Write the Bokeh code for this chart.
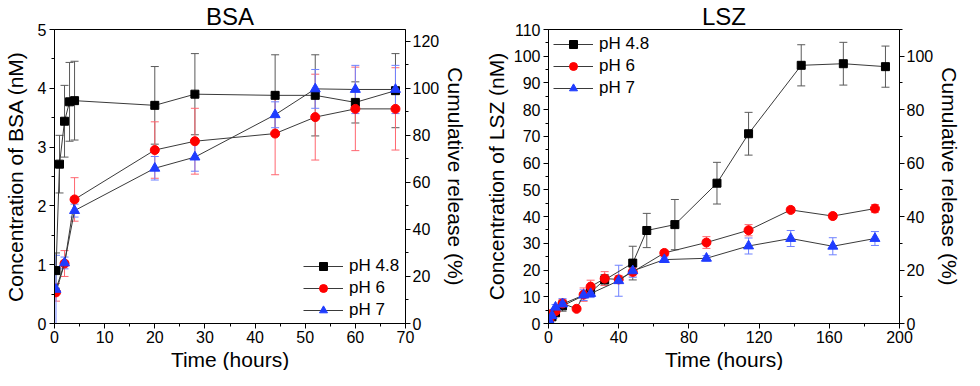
import numpy as np
from bokeh.plotting import figure
from bokeh.models import (Range1d, LinearAxis, SingleIntervalTicker, Whisker, TeeHead,
                          ColumnDataSource, Legend, LegendItem, Title)
from bokeh.layouts import row
from bokeh.embed import file_html
from bokeh.resources import INLINE

# ---------------- data: BSA ----------------
bsa_t48 = [0.3, 1, 2, 3, 4, 20, 28, 44, 52, 60, 68]
bsa_c48 = [0.90, 2.71, 3.44, 3.77, 3.79, 3.71, 3.90, 3.88, 3.88, 3.76, 3.96]
bsa_e48 = [0.30, 0.49, 0.61, 0.67, 0.67, 0.66, 0.69, 0.69, 0.69, 0.35, 0.63]

bsa_t6 = [0.3, 2, 4, 20, 28, 44, 52, 60, 68]
bsa_c6 = [0.53, 1.02, 2.11, 2.95, 3.10, 3.23, 3.51, 3.65, 3.65]
bsa_e6 = [0.15, 0.22, 0.37, 0.48, 0.56, 0.70, 0.73, 0.71, 0.70]

bsa_t7 = [0.3, 2, 4, 20, 28, 44, 52, 60, 68]
bsa_c7 = [0.58, 1.03, 1.92, 2.64, 2.83, 3.55, 3.99, 3.98, 3.98]
bsa_e7 = [0.58, 0.10, 0.11, 0.20, 0.24, 0.22, 0.33, 0.41, 0.41]

# ---------------- data: LSZ ----------------
lsz_t48 = [0.5, 2, 4, 8, 24, 32, 48, 56, 72, 96, 114, 144, 168, 192]
lsz_c48 = [0.5, 2.5, 4.0, 6.6, 11.7, 16.3, 22.6, 34.8, 37.0, 52.5, 71.0, 96.6, 97.2, 96.1]
lsz_e48 = [0.5, 0.8, 1.0, 2.0, 1.5, 2.0, 6.3, 6.4, 9.4, 7.8, 8.0, 7.7, 8.0, 7.7]

lsz_t6 = [0.5, 2, 4, 8, 16, 20, 24, 32, 40, 48, 66, 90, 114, 138, 162, 186]
lsz_c6 = [1.5, 3.7, 4.6, 7.5, 5.5, 10.8, 13.8, 16.8, 16.5, 19.3, 26.4, 30.3, 34.9, 42.5, 40.2, 43.0]
lsz_e6 = [0.5, 0.8, 1.0, 1.5, 0.5, 2.5, 2.4, 2.6, 1.5, 1.5, 1.0, 2.2, 2.1, 1.0, 1.0, 1.5]

lsz_t7 = [0.5, 2, 4, 8, 20, 24, 40, 48, 66, 90, 114, 138, 162, 186]
lsz_c7 = [1.0, 2.9, 6.1, 7.3, 10.6, 11.2, 16.0, 19.7, 23.9, 24.4, 29.0, 31.8, 28.9, 31.8]
lsz_e7 = [0.5, 0.8, 1.0, 2.0, 2.0, 1.5, 5.8, 2.4, 1.0, 1.0, 3.0, 3.0, 3.2, 2.6]

labels = ["pH 4.8", "pH 6", "pH 7"]

FONT = "Liberation Sans"
LINE_COL = "#3a3a3a"
MARK_COLS = ["#000000", "#ff0000", "#1f3cff"]
ERR_COLS = ["#5a5a5a", "#ff6670", "#6f82ff"]
MARKERS = ["square", "circle", "triangle"]
SIZES = [8, 9, 10]


def style_axis(ax, interval=None):
    ax.axis_line_color = "black"
    ax.axis_line_width = 1
    ax.major_tick_line_color = "black"
    ax.minor_tick_line_color = "black"
    ax.major_tick_in = 0
    ax.major_tick_out = 5
    ax.minor_tick_in = 0
    ax.minor_tick_out = 3
    ax.major_label_text_font = FONT
    ax.major_label_text_font_size = "16px"
    ax.major_label_text_color = "black"
    ax.axis_label_text_font = FONT
    ax.axis_label_text_font_size = "21px"
    ax.axis_label_text_font_style = "normal"
    ax.axis_label_text_color = "black"
    ax.major_label_standoff = 3
    if interval is not None:
        ax.ticker = SingleIntervalTicker(interval=interval, num_minor_ticks=2)


def make_fig(width, bl, br, xmax, xint, ymax, yint, pmax, pint, ylabel, title,
             series, legend_loc):
    p = figure(width=width, height=370, output_backend="svg", toolbar_location=None,
               x_range=Range1d(0, xmax), y_range=Range1d(0, ymax),
               min_border_left=bl, min_border_right=br, min_border_top=0,
               min_border_bottom=0, title=title)
    p.title.align = "center"
    p.title.text_font = FONT
    p.title.text_font_size = "24px"
    p.title.text_font_style = "normal"
    p.title.text_color = "black"
    p.title.standoff = 0
    p.title.offset = 0
    p.grid.visible = False
    p.outline_line_color = "black"
    p.outline_line_width = 1
    p.background_fill_color = "white"
    p.border_fill_color = "white"
    p.extra_y_ranges = {"pct": Range1d(0, pmax)}
    right = LinearAxis(y_range_name="pct", axis_label="Cumulative release (%)")
    p.add_layout(right, "right")
    style_axis(p.xaxis[0], xint)
    style_axis(p.yaxis[0], yint)
    style_axis(right, pint)
    right.axis_label_standoff = 2
    right.major_label_standoff = 2
    p.xaxis[0].major_label_standoff = 2
    p.xaxis[0].axis_label_standoff = 0
    p.yaxis[0].axis_label = ylabel
    xt = Title(text="Time (hours)", align="center", text_font=FONT,
               text_font_size="21px", text_font_style="normal", text_color="black",
               standoff=0, offset=0)
    p.add_layout(xt, "below")

    items = []
    for i, (t, c, e) in enumerate(series):
        t = np.array(t, float)
        c = np.array(c, float)
        e = np.array(e, float)
        src = ColumnDataSource(dict(x=t, y=c, lo=c - e, hi=c + e))
        w = Whisker(source=src, base="x", upper="hi", lower="lo",
                    line_color=ERR_COLS[i], line_width=1,
                    upper_head=TeeHead(size=8, line_color=ERR_COLS[i], line_width=1),
                    lower_head=TeeHead(size=8, line_color=ERR_COLS[i], line_width=1),
                    level="underlay")
        p.add_layout(w)
        ln = p.line("x", "y", source=src, line_color=LINE_COL, line_width=1)
        sc = p.scatter("x", "y", source=src, marker=MARKERS[i], size=SIZES[i],
                       fill_color=MARK_COLS[i], line_color=MARK_COLS[i])
        items.append(LegendItem(label=labels[i], renderers=[ln, sc]))

    leg = Legend(items=items, location=legend_loc, background_fill_alpha=0,
                 border_line_alpha=0, padding=0, margin=5, spacing=2,
                 glyph_width=40, glyph_height=20, label_height=20,
                 label_standoff=6, label_text_font=FONT,
                 label_text_font_size="17px", label_text_color="black")
    p.add_layout(leg)
    return p


p1 = make_fig(472, 47, 67, 70, 10, 5, 1, 125, 20, "Concentration of BSA (nM)", "BSA",
              [(bsa_t48, bsa_c48, bsa_e48), (bsa_t6, bsa_c6, bsa_e6),
               (bsa_t7, bsa_c7, bsa_e7)], (249, 3))
p1.yaxis[0].axis_label_standoff = 8

p2 = make_fig(492, 76, 60, 200, 40, 110, 10, 110, 20, "Concentration of LSZ (nM)", "LSZ",
              [(lsz_t48, lsz_c48, lsz_e48), (lsz_t6, lsz_c6, lsz_e6),
               (lsz_t7, lsz_c7, lsz_e7)], "top_left")
p2.yaxis[0].axis_label_standoff = 3

layout = row(p1, p2, spacing=0)
open("out.html", "w").write(file_html(layout, INLINE))
